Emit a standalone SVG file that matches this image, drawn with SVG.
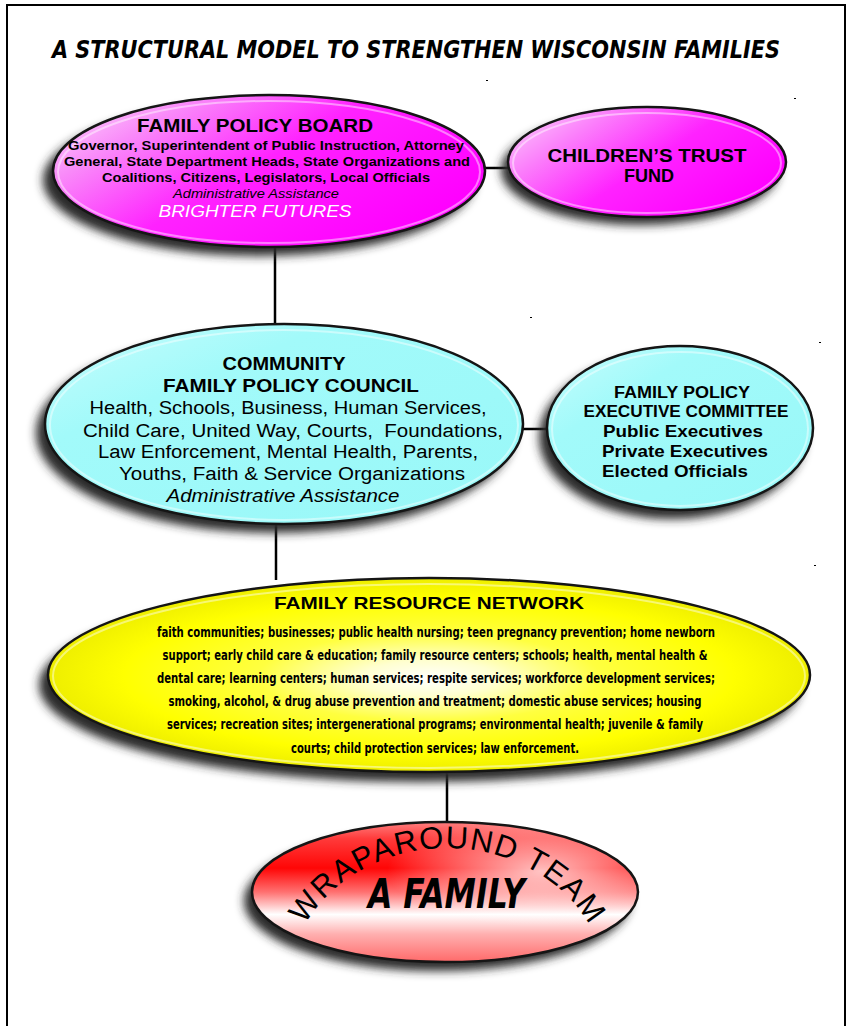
<svg xmlns="http://www.w3.org/2000/svg" width="848" height="1026" viewBox="0 0 848 1026">
<defs>
<style>
.b{font-family:"Liberation Sans",Arial,sans-serif;font-weight:bold;fill:#000;text-anchor:middle}
.r{font-family:"Liberation Sans",Arial,sans-serif;fill:#000;text-anchor:middle}
.n{font-family:"Liberation Sans Narrow","DejaVu Sans Condensed","Liberation Sans",sans-serif;font-weight:bold;fill:#000;text-anchor:middle;font-size:14.5px}
.wa{font-family:"Liberation Sans Narrow","DejaVu Sans Condensed","Liberation Sans",sans-serif;font-weight:bold;font-style:italic}
.edge{stroke:#000;stroke-width:2.5;fill:none}
.sh{fill:#2b2b2b;filter:url(#blur)}
.rim{fill:none;stroke:#151515;stroke-width:2.5}
.gl{fill:none;stroke:#ffffff;stroke-opacity:0.45;stroke-width:2}
</style>
<filter id="blur" x="-10%" y="-20%" width="120%" height="140%"><feGaussianBlur stdDeviation="5"/></filter>
<linearGradient id="gMag" x1="0" y1="0" x2="1" y2="0.6">
<stop offset="0" stop-color="#fde8fd"/>
<stop offset="0.25" stop-color="#f98af9"/>
<stop offset="0.55" stop-color="#ff22ff"/>
<stop offset="1" stop-color="#ff00ff"/>
</linearGradient>
<linearGradient id="gMag2" x1="0" y1="0" x2="1" y2="0.6">
<stop offset="0" stop-color="#fbdafb"/>
<stop offset="0.3" stop-color="#fb7cfb"/>
<stop offset="0.6" stop-color="#ff22ff"/>
<stop offset="1" stop-color="#ff00ff"/>
</linearGradient>
<linearGradient id="gCy" x1="0" y1="0" x2="1" y2="1">
<stop offset="0" stop-color="#c8fdfd"/>
<stop offset="0.3" stop-color="#a2fafa"/>
<stop offset="1" stop-color="#98f8f8"/>
</linearGradient>
<radialGradient id="gYel" cx="0.5" cy="0.5" r="0.5" fx="0.5" fy="0.52">
<stop offset="0" stop-color="#ffffff"/>
<stop offset="0.18" stop-color="#ffffd0"/>
<stop offset="0.45" stop-color="#ffff40"/>
<stop offset="0.8" stop-color="#ffff00"/>
<stop offset="1" stop-color="#eeee00"/>
</radialGradient>
<linearGradient id="gRed" x1="0" y1="0" x2="0" y2="1">
<stop offset="0" stop-color="#ff8080"/>
<stop offset="0.12" stop-color="#ff3a3a"/>
<stop offset="0.33" stop-color="#ff0606"/>
<stop offset="0.5" stop-color="#ff7070"/>
<stop offset="0.66" stop-color="#ffffff"/>
<stop offset="0.8" stop-color="#ffb0b0"/>
<stop offset="1" stop-color="#ff6a6a"/>
</linearGradient>
<radialGradient id="gRedHi" cx="0.75" cy="0.35" r="0.4">
<stop offset="0" stop-color="#ffffff" stop-opacity="0.75"/>
<stop offset="1" stop-color="#ffffff" stop-opacity="0"/>
</radialGradient>
<path id="arc" d="M 287,990 A 160,142 0 0 1 607,990"/>
</defs>
<rect width="848" height="1026" fill="#ffffff"/>
<path d="M7,1030 V5 H845 V1030" fill="none" stroke="#000" stroke-width="2"/>
<text class="wa" x="52" y="58" font-size="24" textLength="728" lengthAdjust="spacingAndGlyphs">A STRUCTURAL MODEL TO STRENGTHEN WISCONSIN FAMILIES</text>
<g id="stray" fill="#000">
<rect x="486" y="80" width="2" height="1"/>
<rect x="794" y="98" width="2" height="1"/>
<rect x="530" y="317" width="2" height="1"/>
<rect x="819" y="342" width="2" height="1"/>
<rect x="814" y="565" width="2" height="1"/>
</g>
<g id="connectors">
<line class="edge" x1="484" y1="168" x2="511" y2="168"/>
<line class="edge" x1="275" y1="244" x2="275" y2="325"/>
<line class="edge" x1="522" y1="429" x2="549" y2="429"/>
<line class="edge" x1="276" y1="521" x2="276" y2="580"/>
<line class="edge" x1="447" y1="770" x2="447" y2="824"/>
</g>
<g id="family-policy-board">
<ellipse class="sh" cx="259" cy="180" rx="216" ry="76"/>
<ellipse cx="269" cy="171" rx="216" ry="76" fill="url(#gMag)"/>
<ellipse class="gl" cx="269" cy="172" rx="211" ry="71"/>
<ellipse class="rim" cx="269" cy="171" rx="216" ry="76"/>
<text class="b" x="255" y="132" font-size="19" textLength="236" lengthAdjust="spacingAndGlyphs">FAMILY POLICY BOARD</text>
<text class="b" x="266" y="150" font-size="13" textLength="396" lengthAdjust="spacingAndGlyphs">Governor, Superintendent of Public Instruction, Attorney</text>
<text class="b" x="267" y="166" font-size="13" textLength="406" lengthAdjust="spacingAndGlyphs">General, State Department Heads, State Organizations and</text>
<text class="b" x="266" y="182" font-size="13" textLength="328" lengthAdjust="spacingAndGlyphs">Coalitions, Citizens, Legislators, Local Officials</text>
<text class="r" x="256" y="198" font-size="13" font-style="italic" textLength="166" lengthAdjust="spacingAndGlyphs">Administrative Assistance</text>
<text class="r" x="255" y="217" font-size="16" font-style="italic" style="fill:#fff" textLength="193" lengthAdjust="spacingAndGlyphs">BRIGHTER FUTURES</text>
</g>
<g id="childrens-trust-fund">
<ellipse class="sh" cx="640" cy="170" rx="139" ry="55"/>
<ellipse cx="647" cy="162" rx="139" ry="55" fill="url(#gMag2)"/>
<ellipse class="gl" cx="647" cy="163" rx="134" ry="50"/>
<ellipse class="rim" cx="647" cy="162" rx="139" ry="55"/>
<text class="b" x="647" y="162" font-size="18" textLength="199" lengthAdjust="spacingAndGlyphs">CHILDREN’S  TRUST</text>
<text class="b" x="649" y="182" font-size="18">FUND</text>
</g>
<g id="community-family-policy-council">
<ellipse class="sh" cx="275" cy="433" rx="239" ry="100"/>
<ellipse cx="284" cy="424" rx="239" ry="100" fill="url(#gCy)"/>
<ellipse class="gl" cx="284" cy="425" rx="234" ry="95"/>
<ellipse class="rim" cx="284" cy="424" rx="239" ry="100"/>
<text class="b" x="284" y="370" font-size="18" textLength="123" lengthAdjust="spacingAndGlyphs">COMMUNITY</text>
<text class="b" x="291" y="392" font-size="18" textLength="256" lengthAdjust="spacingAndGlyphs">FAMILY POLICY COUNCIL</text>
<text class="r" x="288" y="414" font-size="18" textLength="397" lengthAdjust="spacingAndGlyphs">Health, Schools, Business, Human Services,</text>
<text class="r" x="293" y="437" font-size="18" textLength="420" lengthAdjust="spacingAndGlyphs" xml:space="preserve">Child Care, United Way, Courts,  Foundations,</text>
<text class="r" x="288" y="458" font-size="18" textLength="380" lengthAdjust="spacingAndGlyphs">Law Enforcement, Mental Health, Parents,</text>
<text class="r" x="292" y="480" font-size="18" textLength="346" lengthAdjust="spacingAndGlyphs">Youths, Faith &amp; Service Organizations</text>
<text class="r" x="283" y="502" font-size="18" font-style="italic" textLength="233" lengthAdjust="spacingAndGlyphs">Administrative Assistance</text>
</g>
<g id="family-policy-executive-committee">
<ellipse class="sh" cx="672" cy="437" rx="133" ry="82"/>
<ellipse cx="680" cy="428" rx="133" ry="82" fill="url(#gCy)"/>
<ellipse class="gl" cx="680" cy="429" rx="128" ry="77"/>
<ellipse class="rim" cx="680" cy="428" rx="133" ry="82"/>
<text class="b" x="682" y="398" font-size="16" textLength="136" lengthAdjust="spacingAndGlyphs">FAMILY POLICY</text>
<text class="b" x="686" y="417" font-size="16" textLength="205" lengthAdjust="spacingAndGlyphs">EXECUTIVE COMMITTEE</text>
<text class="b" x="683" y="437" font-size="17" textLength="160" lengthAdjust="spacingAndGlyphs">Public Executives</text>
<text class="b" x="685" y="457" font-size="17" textLength="166" lengthAdjust="spacingAndGlyphs">Private Executives</text>
<text class="b" x="675" y="477" font-size="17" textLength="146" lengthAdjust="spacingAndGlyphs">Elected Officials</text>
</g>
<g id="family-resource-network">
<ellipse class="sh" cx="420" cy="685" rx="381" ry="97"/>
<ellipse cx="429" cy="675" rx="381" ry="97" fill="url(#gYel)"/>
<ellipse class="gl" cx="429" cy="676" rx="376" ry="92"/>
<ellipse class="rim" cx="429" cy="675" rx="381" ry="97"/>
<text class="b" x="429" y="609" font-size="17" textLength="310" lengthAdjust="spacingAndGlyphs">FAMILY RESOURCE NETWORK</text>
<text class="n" x="436" y="637" textLength="558" lengthAdjust="spacingAndGlyphs">faith communities; businesses; public health nursing; teen pregnancy prevention; home newborn</text>
<text class="n" x="435" y="660" textLength="545" lengthAdjust="spacingAndGlyphs">support; early child care &amp; education; family resource centers; schools; health, mental health &amp;</text>
<text class="n" x="436" y="683" textLength="558" lengthAdjust="spacingAndGlyphs">dental care; learning centers; human services; respite services; workforce development services;</text>
<text class="n" x="435" y="706" textLength="533" lengthAdjust="spacingAndGlyphs">smoking, alcohol, &amp; drug abuse prevention and treatment; domestic abuse services; housing</text>
<text class="n" x="435" y="729" textLength="536" lengthAdjust="spacingAndGlyphs">services; recreation sites; intergenerational programs; environmental health; juvenile &amp; family</text>
<text class="n" x="435" y="753" textLength="288" lengthAdjust="spacingAndGlyphs">courts; child protection services; law enforcement.</text>
</g>
<g id="wraparound-team">
<ellipse class="sh" cx="437" cy="901" rx="193" ry="70"/>
<ellipse cx="445" cy="892" rx="193" ry="70" fill="url(#gRed)"/>
<ellipse cx="445" cy="892" rx="193" ry="70" fill="url(#gRedHi)"/>
<ellipse class="rim" cx="445" cy="892" rx="193" ry="70"/>
<text font-family="Liberation Sans, Arial, sans-serif" font-size="31" fill="#000" text-anchor="middle"><textPath href="#arc" startOffset="50%" textLength="338" lengthAdjust="spacing">WRAPAROUND TEAM</textPath></text>
<text class="wa" x="368" y="908" font-size="40" textLength="157" lengthAdjust="spacingAndGlyphs">A FAMILY</text>
</g>
</svg>
